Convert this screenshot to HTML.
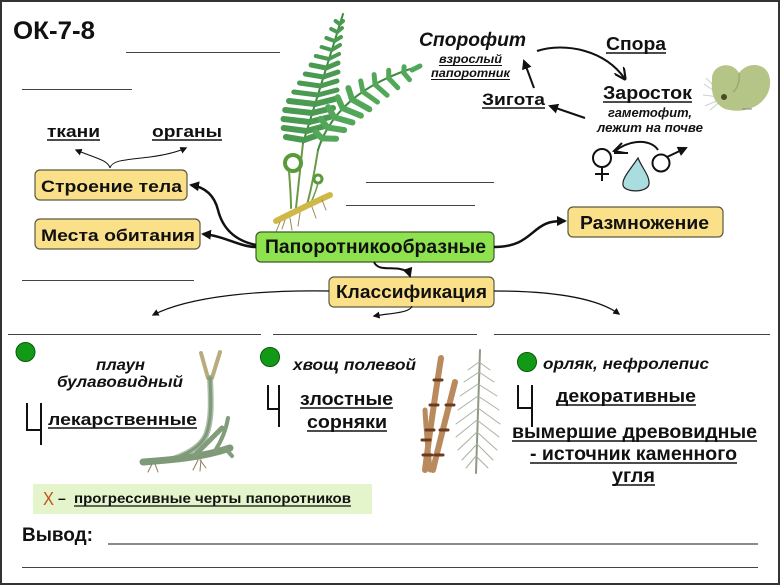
<!DOCTYPE html>
<html><head><meta charset="utf-8">
<style>
html,body{margin:0;padding:0;background:#fff;}
svg{display:block;}
text{font-family:"Liberation Sans","DejaVu Sans",sans-serif;fill:#111;}
.b{font-weight:bold;}
.bi{font-weight:bold;font-style:italic;}
</style></head><body>
<svg width="780" height="585" viewBox="0 0 780 585" xmlns="http://www.w3.org/2000/svg">
<defs>
<marker id="ah" viewBox="0 0 10 10" refX="8" refY="5" markerWidth="10" markerHeight="10" markerUnits="userSpaceOnUse" orient="auto"><path d="M0,0 L10,5 L0,10 z" fill="#111"/></marker>
<marker id="as" viewBox="0 0 10 10" refX="8" refY="5" markerWidth="7" markerHeight="7" markerUnits="userSpaceOnUse" orient="auto"><path d="M0,0 L10,5 L0,10 z" fill="#111"/></marker>
<marker id="ao" viewBox="0 0 10 10" refX="9" refY="5" markerWidth="12" markerHeight="12" markerUnits="userSpaceOnUse" orient="auto"><path d="M0,0 L10,5 L0,10" fill="none" stroke="#111" stroke-width="1.8"/></marker>
</defs>
<rect x="0" y="0" width="780" height="585" fill="#fff"/>
<rect x="1" y="1" width="778" height="583" fill="none" stroke="#333" stroke-width="2"/>

<!-- blank lines -->
<g stroke="#444" stroke-width="1">
<line x1="126" y1="52.5" x2="280" y2="52.5"/>
<line x1="22" y1="89.5" x2="132" y2="89.5"/>
<line x1="22" y1="280.5" x2="194" y2="280.5"/>
<line x1="366" y1="182.5" x2="494" y2="182.5"/>
<line x1="346" y1="205.5" x2="475" y2="205.5"/>
<line x1="8" y1="334.5" x2="261" y2="334.5"/>
<line x1="273" y1="334.5" x2="477" y2="334.5"/>
<line x1="494" y1="334.5" x2="770" y2="334.5"/>
<line x1="22" y1="567.5" x2="758" y2="567.5"/>
</g>
<line x1="108" y1="544" x2="758" y2="544" stroke="#8a8a8a" stroke-width="2"/>

<!-- fern -->
<g stroke-linecap="round" fill="none">
<path d="M303,143 C300,170 298,190 296,208" stroke="#6a9a45" stroke-width="2"/>
<path d="M318,150 C314,175 310,195 306,208" stroke="#6a9a45" stroke-width="2"/>
<path d="M303,143 L343,14" stroke="#3d8a3d" stroke-width="2"/>
<path d="M318,150 Q337,90 420,66" stroke="#3d8a3d" stroke-width="2"/>
<g stroke="#4a9a52">
<g stroke-width="6">
<line x1="303.9" y1="140" x2="285.9" y2="137"/><line x1="303.9" y1="140" x2="318" y2="135"/>
<line x1="306.7" y1="131" x2="283.7" y2="128"/><line x1="306.7" y1="131" x2="325" y2="126"/>
<line x1="309.5" y1="122" x2="283.5" y2="119"/><line x1="309.5" y1="122" x2="330" y2="117"/>
<line x1="312.2" y1="113" x2="285.2" y2="110"/><line x1="312.2" y1="113" x2="333" y2="108"/>
<line x1="315" y1="104" x2="289" y2="101"/><line x1="315" y1="104" x2="335" y2="99"/>
</g>
<g stroke-width="5">
<line x1="317.8" y1="95" x2="293.8" y2="92"/><line x1="317.8" y1="95" x2="337" y2="90"/>
<line x1="320.5" y1="86" x2="299.5" y2="83"/><line x1="320.5" y1="86" x2="337" y2="81"/>
<line x1="323.3" y1="77" x2="305.3" y2="74"/><line x1="323.3" y1="77" x2="338" y2="72"/>
<line x1="326.1" y1="68" x2="311.1" y2="65"/><line x1="326.1" y1="68" x2="338" y2="63"/>
</g>
<g stroke-width="4">
<line x1="328.8" y1="59" x2="315.8" y2="56"/><line x1="328.8" y1="59" x2="339" y2="54"/>
<line x1="331.6" y1="50" x2="321.6" y2="47"/><line x1="331.6" y1="50" x2="340" y2="45"/>
<line x1="334.4" y1="41" x2="326.4" y2="38"/><line x1="334.4" y1="41" x2="341" y2="37"/>
<line x1="337.2" y1="32" x2="331.2" y2="29"/><line x1="337.2" y1="32" x2="342" y2="28"/>
<line x1="339.6" y1="24" x2="335.6" y2="21"/><line x1="339.6" y1="24" x2="343" y2="21"/>
</g>
</g>
<g stroke="#52a858">
<g stroke-width="6">
<line x1="322.1" y1="138.4" x2="336.1" y2="138.7"/><line x1="322.1" y1="138.4" x2="315.7" y2="132"/>
<line x1="327.5" y1="127.5" x2="344.2" y2="130.1"/><line x1="327.5" y1="127.5" x2="320.8" y2="118.8"/>
<line x1="334.3" y1="117.4" x2="352.5" y2="122.5"/><line x1="334.3" y1="117.4" x2="328.2" y2="107.1"/>
<line x1="342.5" y1="108.1" x2="360.9" y2="115.7"/><line x1="342.5" y1="108.1" x2="337.7" y2="97.2"/>
<line x1="352" y1="99.5" x2="369.4" y2="109.3"/><line x1="352" y1="99.5" x2="348.4" y2="88.1"/>
</g>
<g stroke-width="5">
<line x1="362.9" y1="91.7" x2="377.5" y2="102.1"/><line x1="362.9" y1="91.7" x2="360.7" y2="80.9"/>
<line x1="375.1" y1="84.6" x2="387.1" y2="95.2"/><line x1="375.1" y1="84.6" x2="374.1" y2="74.6"/>
<line x1="388.7" y1="78.3" x2="397.8" y2="87.7"/><line x1="388.7" y1="78.3" x2="388.7" y2="70.3"/>
<line x1="403.7" y1="72.8" x2="409.5" y2="79.7"/><line x1="403.7" y1="72.8" x2="404.1" y2="66.8"/>
<line x1="412" y1="70" x2="420" y2="66"/>
</g>
</g>
<circle cx="293" cy="163" r="8" stroke="#5a9a3a" stroke-width="4"/>
<path d="M289,171 C290,185 291,195 291,208" stroke="#6a9a45" stroke-width="2"/>
<circle cx="318" cy="179" r="4" stroke="#5a9a3a" stroke-width="3"/>
<path d="M318,183 C316,192 312,200 310,205" stroke="#6a9a45" stroke-width="1.5"/>
<path d="M276,221 C290,214 310,204 330,195" stroke="#d0b848" stroke-width="6"/>
<g stroke="#9a8a55" stroke-width="1">
<path d="M280,222 L276,232"/><path d="M290,218 L292,230"/><path d="M300,213 L298,226"/><path d="M312,207 L316,218"/><path d="M322,200 L326,210"/><path d="M285,220 L282,229"/>
</g>
</g>

<!-- prothallus -->
<g>
<g stroke="#cfcfcf" stroke-width="1" fill="none">
<path d="M720,95 L704,84"/><path d="M720,97 L703,95"/><path d="M721,99 L705,106"/><path d="M722,100 L710,110"/><path d="M720,92 L706,78"/>
</g>
<path d="M712,80 C711,64 732,60 739,73 C748,60 772,62 770,85 C768,105 745,115 725,109 C713,103 711,92 712,80 z" fill="#b5c587"/>
<path d="M739,73 C740,80 738,88 733,92" stroke="#9aab70" stroke-width="1.5" fill="none"/>
<circle cx="724" cy="97" r="3" fill="#4a4a2a"/>
<line x1="742" y1="109" x2="752" y2="109" stroke="#888" stroke-width="1"/>
</g>

<!-- boxes -->
<rect x="35" y="170" width="152" height="30" rx="5" fill="#fbe08a" stroke="#5a5a40" stroke-width="1.2"/>
<rect x="35" y="219" width="165" height="30" rx="5" fill="#fbe08a" stroke="#5a5a40" stroke-width="1.2"/>
<rect x="256" y="232" width="238" height="30" rx="5" fill="#8ee24e" stroke="#3f5a2a" stroke-width="1.2"/>
<rect x="329" y="277" width="165" height="30" rx="5" fill="#fbe08a" stroke="#5a5a40" stroke-width="1.2"/>
<rect x="568" y="207" width="155" height="30" rx="5" fill="#fbe08a" stroke="#5a5a40" stroke-width="1.2"/>

<!-- connectors -->
<g fill="none" stroke="#111">
<path d="M110,168 C108,160 95,158 76,150" stroke-width="1" marker-end="url(#as)"/>
<path d="M110,168 C112,160 125,160 150,157 C165,155 177,152 186,148" stroke-width="1" marker-end="url(#as)"/>
<path d="M256,247 C240,247 225,236 203,234" stroke-width="2.5" marker-end="url(#ah)"/>
<path d="M256,245 C232,240 222,226 218,210 C214,194 204,187 191,185" stroke-width="2.5" marker-end="url(#ah)"/>
<path d="M494,247 C518,247 526,238 536,230 C546,222 552,221 565,221" stroke-width="2.5" marker-end="url(#ah)"/>
<path d="M374,262 C378,271 390,267 400,269 C406,270 409,273 410,276" stroke-width="2" marker-end="url(#ah)"/>
<path d="M329,291 C260,290 190,296 153,315" stroke-width="1.2" marker-end="url(#as)"/>
<path d="M412,306 C410,313 392,313 374,316" stroke-width="1.2" marker-end="url(#as)"/>
<path d="M494,291 C560,291 600,300 619,314" stroke-width="1.2" marker-end="url(#as)"/>
<path d="M537,51 C565,42 605,50 625,79" stroke-width="2" marker-end="url(#ao)"/>
<path d="M585,118 L550,106" stroke-width="2" marker-end="url(#ah)"/>
<path d="M534,88 L524,61" stroke-width="2" marker-end="url(#ah)"/>
<!-- gender symbols -->
<circle cx="602" cy="158" r="9" stroke-width="2"/>
<line x1="602" y1="167" x2="602" y2="181" stroke-width="2"/>
<line x1="595" y1="174" x2="609" y2="174" stroke-width="2"/>
<circle cx="661" cy="163" r="8.5" stroke-width="2"/>
<line x1="667" y1="157" x2="686" y2="148" stroke-width="2" marker-end="url(#ah)"/>
<path d="M658,150 C652,140 632,138 615,151" stroke-width="2"/>
<path d="M622,143 L614,151 L625,153" stroke-width="2"/>
<line x1="614" y1="153" x2="628" y2="153" stroke-width="2"/>
</g>
<path d="M638,158 C630,170 622,178 623,185 C624,193 648,193 649,184 C650,176 642,168 638,158 z" fill="#a9dde0" stroke="#222" stroke-width="1.2"/>

<!-- brackets -->
<g fill="none" stroke="#111" stroke-width="2">
<path d="M27,403 V430 H41 M41,403 V445"/>
<path d="M268,385 V409 H279 M279,385 V427"/>
<path d="M518,385 V408 H532 M532,385 V427"/>
</g>

<!-- green dots -->
<circle cx="25.5" cy="352" r="9.5" fill="#129a16" stroke="#0a5a0a" stroke-width="1"/>
<circle cx="270" cy="357" r="9.5" fill="#129a16" stroke="#0a5a0a" stroke-width="1"/>
<circle cx="527" cy="362" r="9.5" fill="#129a16" stroke="#0a5a0a" stroke-width="1"/>

<!-- club moss -->
<g fill="none" stroke-linecap="round">
<line x1="201" y1="353" x2="208" y2="378" stroke="#b8ab7e" stroke-width="4"/>
<line x1="220" y1="352" x2="212" y2="378" stroke="#b8ab7e" stroke-width="4"/>
<path d="M210,378 C211,400 212,420 206,435 C200,448 185,455 170,460" stroke="#8aa283" stroke-width="6" stroke-dasharray="1.5 1.5" opacity="0.7"/>
<path d="M210,378 C211,400 212,420 206,435 C200,448 185,455 170,460" stroke="#7f9a78" stroke-width="3"/>
<path d="M143,462 C170,460 200,458 230,448" stroke="#7f9a78" stroke-width="7"/>
<path d="M195,455 C205,445 215,435 222,428" stroke="#839d7c" stroke-width="5"/>
<path d="M215,451 C222,440 226,430 228,418" stroke="#839d7c" stroke-width="4"/>
<path d="M225,448 L232,456" stroke="#839d7c" stroke-width="4"/>
<g stroke="#8a7a5a" stroke-width="1">
<path d="M152,464 L148,472"/><path d="M155,464 L158,472"/><path d="M198,460 L193,470"/><path d="M200,460 L206,468"/><path d="M201,460 L200,471"/>
</g>
</g>

<!-- horsetail -->
<g fill="none" stroke-linecap="round">
<path d="M425,470 C430,430 436,390 441,358" stroke="#b98a5e" stroke-width="6"/>
<path d="M433,470 C440,440 448,410 455,382" stroke="#b98a5e" stroke-width="6"/>
<path d="M430,470 C428,450 426,430 425,410" stroke="#b98a5e" stroke-width="5"/>
<g stroke="#6b3b1e" stroke-width="3">
<line x1="423" y1="455" x2="432" y2="455"/><line x1="426" y1="430" x2="434" y2="430"/><line x1="430" y1="405" x2="438" y2="405"/><line x1="434" y1="380" x2="442" y2="380"/>
<line x1="435" y1="455" x2="443" y2="455"/><line x1="440" y1="430" x2="448" y2="430"/><line x1="446" y1="405" x2="454" y2="405"/>
<line x1="422" y1="440" x2="430" y2="440"/>
</g>
<g stroke="#a9b29c" stroke-width="1">
<line x1="476" y1="473" x2="480" y2="350" stroke="#8f9884" stroke-width="2"/>
<path d="M479,362 L468,370 M479,362 L490,370"/>
<path d="M479,372 L464,382 M479,372 L494,382"/>
<path d="M478,384 L460,396 M478,384 L497,396"/>
<path d="M478,396 L458,410 M478,396 L499,410"/>
<path d="M478,408 L456,424 M478,408 L500,424"/>
<path d="M477,420 L456,437 M477,420 L499,437"/>
<path d="M477,432 L458,450 M477,432 L497,450"/>
<path d="M477,444 L462,460 M477,444 L493,460"/>
<path d="M476,456 L466,468 M476,456 L488,468"/>
</g>
</g>

<!-- green note box -->
<rect x="33" y="484" width="339" height="30" fill="#e4f5cc"/>

<!-- texts -->
<text x="13" y="39" class="b" font-size="25" textLength="82" lengthAdjust="spacingAndGlyphs">ОК-7-8</text>
<text x="47" y="137" class="b" font-size="17" textLength="53" lengthAdjust="spacingAndGlyphs">ткани</text>
<text x="152" y="137" class="b" font-size="17" textLength="70" lengthAdjust="spacingAndGlyphs">органы</text>
<text x="41" y="192" class="b" font-size="17" textLength="141" lengthAdjust="spacingAndGlyphs">Строение тела</text>
<text x="41" y="241" class="b" font-size="17" textLength="154" lengthAdjust="spacingAndGlyphs">Места обитания</text>
<text x="265" y="253" class="b" font-size="19" textLength="221" lengthAdjust="spacingAndGlyphs">Папоротникообразные</text>
<text x="336" y="298" class="b" font-size="18" textLength="151" lengthAdjust="spacingAndGlyphs">Классификация</text>
<text x="580" y="229" class="b" font-size="18" textLength="129" lengthAdjust="spacingAndGlyphs">Размножение</text>
<text x="419" y="46" class="bi" font-size="19" textLength="107" lengthAdjust="spacingAndGlyphs">Спорофит</text>
<text x="439" y="63" class="bi" font-size="12" textLength="63" lengthAdjust="spacingAndGlyphs">взрослый</text>
<text x="431" y="77" class="bi" font-size="12" textLength="79" lengthAdjust="spacingAndGlyphs">папоротник</text>
<text x="606" y="50" class="b" font-size="18" textLength="60" lengthAdjust="spacingAndGlyphs">Спора</text>
<text x="603" y="99" class="b" font-size="18" textLength="89" lengthAdjust="spacingAndGlyphs">Заросток</text>
<text x="608" y="117" class="bi" font-size="13" textLength="84" lengthAdjust="spacingAndGlyphs">гаметофит,</text>
<text x="597" y="132" class="bi" font-size="13" textLength="106" lengthAdjust="spacingAndGlyphs">лежит на почве</text>
<text x="482" y="105" class="b" font-size="17" textLength="63" lengthAdjust="spacingAndGlyphs">Зигота</text>
<text x="96" y="370" class="bi" font-size="16" textLength="49" lengthAdjust="spacingAndGlyphs">плаун</text>
<text x="57" y="387" class="bi" font-size="16" textLength="126" lengthAdjust="spacingAndGlyphs">булавовидный</text>
<text x="48" y="425" class="b" font-size="17" textLength="149" lengthAdjust="spacingAndGlyphs">лекарственные</text>
<text x="293" y="370" class="bi" font-size="16" textLength="123" lengthAdjust="spacingAndGlyphs">хвощ полевой</text>
<text x="300" y="405" class="b" font-size="18" textLength="93" lengthAdjust="spacingAndGlyphs">злостные</text>
<text x="307" y="428" class="b" font-size="18" textLength="80" lengthAdjust="spacingAndGlyphs">сорняки</text>
<text x="543" y="369" class="bi" font-size="16" textLength="166" lengthAdjust="spacingAndGlyphs">орляк, нефролепис</text>
<text x="556" y="402" class="b" font-size="18" textLength="140" lengthAdjust="spacingAndGlyphs">декоративные</text>
<text x="512" y="438" class="b" font-size="19" textLength="245" lengthAdjust="spacingAndGlyphs">вымершие древовидные</text>
<text x="530" y="460" class="b" font-size="19" textLength="207" lengthAdjust="spacingAndGlyphs">- источник каменного</text>
<text x="612" y="482" class="b" font-size="19" textLength="43" lengthAdjust="spacingAndGlyphs">угля</text>
<text x="43" y="505" font-size="18" style="fill:#c0561c" textLength="11" lengthAdjust="spacingAndGlyphs">Х</text>
<text x="58" y="503" class="b" font-size="14">–</text>
<text x="74" y="503" class="b" font-size="14" textLength="277" lengthAdjust="spacingAndGlyphs">прогрессивные черты папоротников</text>
<text x="22" y="541" class="b" font-size="19" textLength="71" lengthAdjust="spacingAndGlyphs">Вывод:</text>

<!-- underlines -->
<g stroke="#111" stroke-width="1.5">
<line x1="47" y1="140" x2="100" y2="140"/>
<line x1="152" y1="140" x2="222" y2="140"/>
<line x1="439" y1="65.5" x2="502" y2="65.5" stroke-width="1"/>
<line x1="431" y1="79.5" x2="510" y2="79.5" stroke-width="1"/>
<line x1="606" y1="53" x2="666" y2="53"/>
<line x1="603" y1="102" x2="692" y2="102"/>
<line x1="482" y1="108" x2="545" y2="108"/>
<line x1="48" y1="428" x2="197" y2="428"/>
<line x1="300" y1="408" x2="393" y2="408"/>
<line x1="307" y1="431" x2="387" y2="431"/>
<line x1="556" y1="405" x2="696" y2="405"/>
<line x1="512" y1="441" x2="757" y2="441"/>
<line x1="530" y1="463" x2="737" y2="463"/>
<line x1="612" y1="485" x2="655" y2="485"/>
<line x1="74" y1="506" x2="351" y2="506" stroke-width="1.2"/>
</g>
</svg>
</body></html>
